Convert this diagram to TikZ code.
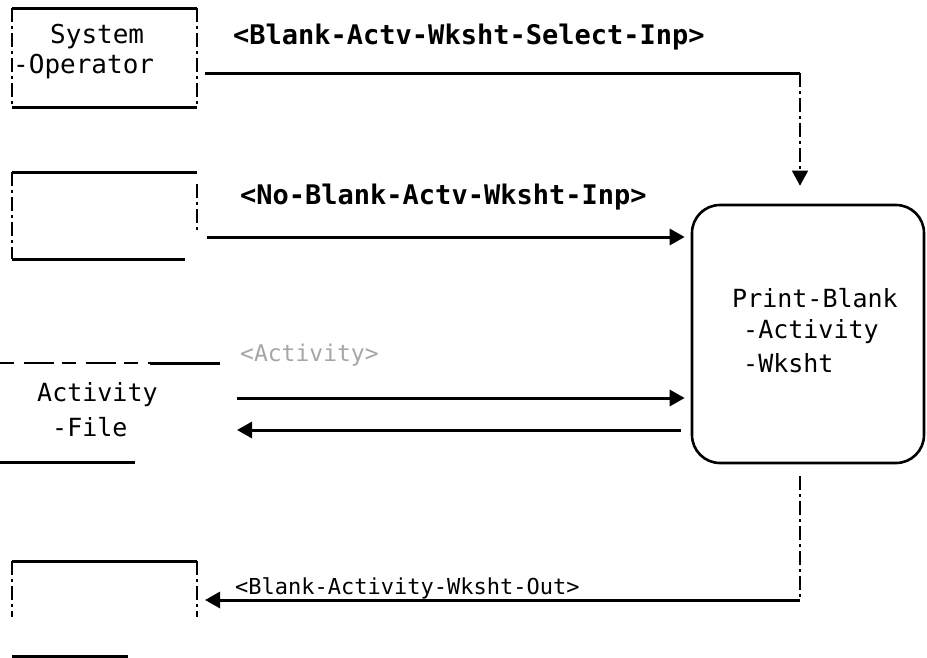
\documentclass[tikz,border=0pt]{standalone}
\usepackage{fontspec}
\setmainfont{DejaVu Sans Mono}
\usetikzlibrary{arrows.meta}
\begin{document}
\begin{tikzpicture}[x=1pt,y=-1pt,
  heavy/.style={line width=3pt},
  sidedash/.style={line width=1.3pt,dash pattern=on 14pt off 4pt on 3pt off 4pt},
  ctrl/.style={line width=1.3pt,dash pattern=on 14pt off 4pt on 3pt off 4pt},
  flowarrow/.style={heavy,-{Triangle[length=15pt,width=16pt]}},
  ctrlarrow/.style={ctrl,-{Triangle[length=15pt,width=16pt]}},
  frame/.style={inner sep=0pt,outer sep=0pt,rectangle},
  lbl/.style={inner sep=0pt,anchor=west},
  fa/.style={font=\fontsize{25}{25}\selectfont},
  fb/.style={font=\bfseries\fontsize{27}{27}\selectfont},
  fc/.style={font=\fontsize{22}{22}\selectfont}]
\useasboundingbox (0,0) rectangle (927,657);

% System-Operator terminator
\node[frame,minimum width=185pt,minimum height=99pt] (sysop) at (104.5,57.5) {};
\draw[heavy] (sysop.north west) -- (sysop.north east);
\draw[heavy] (sysop.south west) -- (sysop.south east);
\draw[sidedash] (sysop.north west) -- (sysop.south west);
\draw[sidedash] (sysop.north east) -- (sysop.south east);
\node[lbl,font=\fontsize{26}{26}\selectfont] (sysopA) at (50,37) {System};
\node[lbl,font=\fontsize{26}{26}\selectfont] (sysopB) at (13,67) {-Operator};

% blank terminator 1
\node[frame,minimum width=185pt,minimum height=87pt] (blankA) at (104.5,215.5) {};
\draw[heavy] (blankA.north west) -- (blankA.north east);
\draw[heavy] (blankA.south west) -- ++(173,0);
\draw[sidedash] (blankA.north west) -- (blankA.south west);
\draw[sidedash] ([yshift=-12pt]blankA.north east) -- ([yshift=28pt]blankA.south east);

% Activity-File store
\node[frame,minimum width=220pt,minimum height=99pt] (store) at (110,412.5) {};
\draw[line width=2pt,dash pattern=on 14pt off 10pt on 30pt off 8pt] (store.north west) -- ++(150,0);
\draw[heavy] ([xshift=150pt]store.north west) -- (store.north east);
\draw[heavy] (store.south west) -- ++(135,0);
\node[lbl,fa] (storeA) at (37,395) {Activity};
\node[lbl,fa] (storeB) at (52,427) {-File};

% blank terminator 2
\node[frame,minimum width=185pt,minimum height=95pt] (blankB) at (104.5,608.5) {};
\draw[heavy] (blankB.north west) -- (blankB.north east);
\draw[sidedash] (blankB.north west) -- ++(0,56);
\draw[sidedash] (blankB.north east) -- ++(0,56);
\draw[heavy] (blankB.south west) -- ++(116,0);

% process
\node[draw,line width=2.6pt,rounded corners=28pt,minimum width=232pt,minimum height=258pt,inner sep=0pt] (proc) at (808,334) {};
\node[lbl,fa] (procA) at (732,298) {Print-Blank};
\node[lbl,fa] (procB) at (743,332) {-Activity};
\node[lbl,fa] (procC) at (743,363) {-Wksht};

% connectors
\coordinate (t1) at (800,73);
\draw[heavy] ([xshift=8pt]sysop.east |- t1) -- (t1);
\draw[ctrlarrow] (t1) -- ([yshift=18pt]proc.north -| t1);
\node[lbl,fb] (lab1) at (233,37) {<Blank-Actv-Wksht-Select-Inp>};

\coordinate (y2) at (0,237);
\draw[flowarrow] ([xshift=10pt]blankA.east |- y2) -- ([xshift=-6pt]proc.west |- y2);
\node[lbl,fb] (lab2) at (240,197) {<No-Blank-Actv-Wksht-Inp>};

\coordinate (y3) at (0,398);
\coordinate (y4) at (0,430);
\draw[flowarrow] ([xshift=17pt]store.east |- y3) -- ([xshift=-6pt]proc.west |- y3);
\draw[flowarrow] ([xshift=-10pt]proc.west |- y4) -- ([xshift=17pt]store.east |- y4);
\node[lbl,font=\fontsize{23}{23}\selectfont,text=black!35] (lab3) at (240,355) {<Activity>};

\coordinate (b1) at (800,600);
\draw[ctrl] ([yshift=-12pt]proc.south -| b1) -- (b1);
\draw[flowarrow] (b1) -- ([xshift=8pt]blankB.east |- b1);
\node[lbl,fc] (lab4) at (235,588) {<Blank-Activity-Wksht-Out>};
\end{tikzpicture}
\end{document}
